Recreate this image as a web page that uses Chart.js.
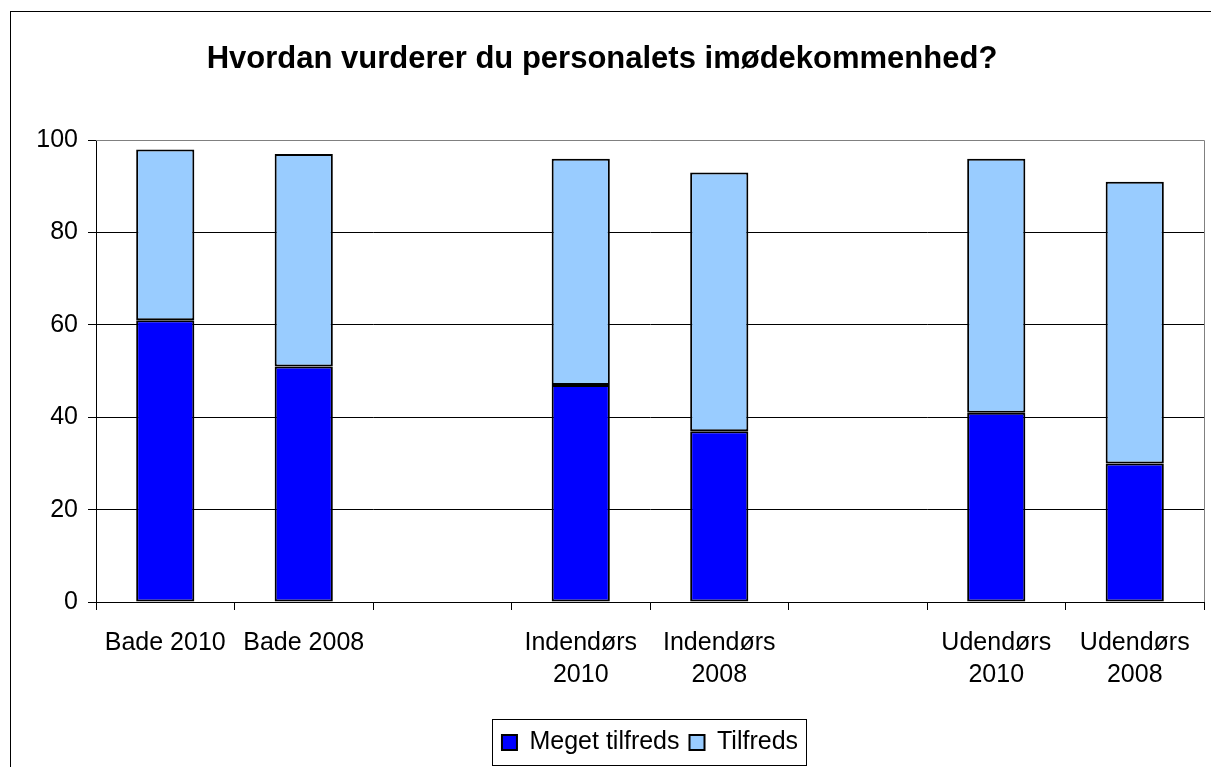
<!DOCTYPE html>
<html lang="da">
<head>
  <meta charset="UTF-8">
  <title>Hvordan vurderer du personalets imødekommenhed?</title>
  <script src="https://cdn.jsdelivr.net/npm/chart.js"></script>
  <style>
    html, body { margin: 0; padding: 0; background: #fff; overflow: hidden; }
    .chart-container { position: relative; width: 1211px; height: 767px; }
  </style>
</head>
<body>
  <div class="chart-container">
    <canvas id="barChart"></canvas>
  </div>

  <script>
    // Data
    const categories = ['Bade 2010', 'Bade 2008', '', ['Indendørs', '2010'], ['Indendørs', '2008'], '', ['Udendørs', '2010'], ['Udendørs', '2008']];
    const megetTilfreds = [61, 51, null, 47, 37, null, 41, 30];
    const tilfreds = [37, 46, null, 49, 56, null, 55, 61];
    const yTicks = [0, 20, 40, 60, 80, 100];

    Chart.defaults.font.family = "'Liberation Sans', Arial, sans-serif";
    Chart.defaults.color = '#000';

    const LEGEND_SHIFT = 48; // forklaringen sidder til højre for midten

    // Ydre ramme, plotramme og ramme om forklaringen
    const framePlugin = {
      id: 'frames',
      afterUpdate(chart) {
        const legend = chart.legend;
        legend.left += LEGEND_SHIFT;
        legend.right += LEGEND_SHIFT;
        legend.legendHitBoxes.forEach(b => { b.left += LEGEND_SHIFT; });
      },
      beforeDraw(chart) {
        const ctx = chart.ctx;
        ctx.save();
        ctx.strokeStyle = '#000';
        ctx.lineWidth = 1;
        ctx.strokeRect(10.5, 11.5, 1300, 800);
        ctx.restore();
      },
      beforeDatasetsDraw(chart) {
        const a = chart.chartArea;
        const ctx = chart.ctx;
        ctx.save();
        ctx.strokeStyle = '#808080';
        ctx.lineWidth = 1;
        ctx.beginPath();
        ctx.moveTo(a.left, Math.round(a.top) + 0.5);
        ctx.lineTo(Math.round(a.right) + 0.5, Math.round(a.top) + 0.5);
        ctx.lineTo(Math.round(a.right) + 0.5, a.bottom);
        ctx.stroke();
        ctx.restore();
      },
      afterDraw(chart) {
        const boxes = chart.legend.legendHitBoxes;
        if (!boxes || !boxes.length) return;
        const left = Math.min(...boxes.map(b => b.left)) - 10;
        const right = Math.max(...boxes.map(b => b.left + b.width)) + 8;
        const top = Math.min(...boxes.map(b => b.top)) - 11;
        const bottom = Math.max(...boxes.map(b => b.top + b.height)) + 10;
        const ctx = chart.ctx;
        ctx.save();
        ctx.strokeStyle = '#000';
        ctx.lineWidth = 1;
        ctx.strokeRect(Math.round(left) + 0.5, Math.round(top) + 0.5, Math.round(right - left), Math.round(bottom - top));
        ctx.restore();
      }
    };

    new Chart(document.getElementById('barChart'), {
      type: 'bar',
      data: {
        labels: categories,
        datasets: [
          {
            label: 'Meget tilfreds',
            data: megetTilfreds,
            backgroundColor: '#0000FF',
            borderColor: '#000',
            borderWidth: 2,
            borderSkipped: false,
            barPercentage: 0.42,
            categoryPercentage: 1
          },
          {
            label: 'Tilfreds',
            data: tilfreds,
            backgroundColor: '#99CCFF',
            borderColor: '#000',
            borderWidth: 2,
            borderSkipped: false,
            barPercentage: 0.42,
            categoryPercentage: 1
          }
        ]
      },
      options: {
        responsive: true,
        maintainAspectRatio: false,
        animation: false,
        layout: { padding: { left: 0, right: 7, top: 0, bottom: 2 } },
        plugins: {
          title: {
            display: true,
            text: 'Hvordan vurderer du personalets imødekommenhed?',
            font: { size: 31, weight: 'bold' },
            color: '#000',
            padding: { top: 41, bottom: 62 }
          },
          legend: {
            position: 'bottom',
            labels: {
              font: { size: 25 },
              color: '#000',
              boxWidth: 15,
              boxHeight: 15,
              padding: 10,
              useBorderRadius: false
            }
          },
          tooltip: { enabled: false }
        },
        scales: {
          x: {
            stacked: true,
            grid: {
              offset: true,
              drawOnChartArea: false,
              drawTicks: true,
              tickLength: 8,
              color: '#000'
            },
            border: { color: '#000', width: 1 },
            ticks: {
              autoSkip: false,
              maxRotation: 0,
              font: { size: 25, lineHeight: 1.28 },
              color: '#000',
              padding: 17
            },
            afterFit(scale) { scale.height = 118; }
          },
          y: {
            stacked: true,
            min: 0,
            max: 100,
            afterBuildTicks(scale) { scale.ticks = yTicks.map(v => ({ value: v })); },
            grid: {
              color: ctx => (ctx.tick && ctx.tick.value === 100 ? '#808080' : '#000'),
              tickColor: '#000',
              tickLength: 8,
              lineWidth: 1
            },
            border: { color: '#000', width: 1 },
            ticks: {
              font: { size: 25 },
              color: '#000',
              padding: 10
            },
            afterFit(scale) { scale.width = 96; }
          }
        }
      },
      plugins: [framePlugin]
    });
  </script>
</body>
</html>
